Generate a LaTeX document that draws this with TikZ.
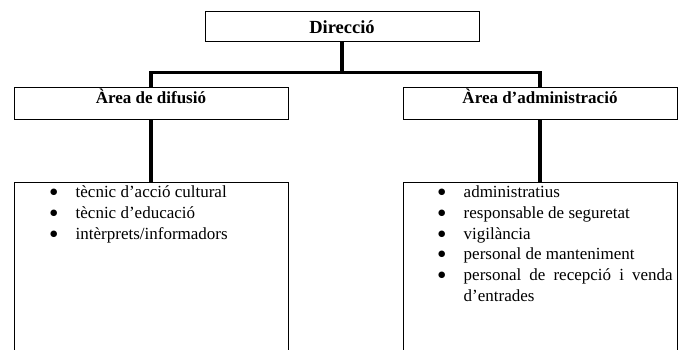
\documentclass[tikz,border=0pt]{standalone}
\usepackage{fontspec}
\setmainfont{Liberation Serif}
\newfontfamily\symfont{DejaVu Sans}
\usetikzlibrary{calc}
\tikzset{
  unitbox/.style={draw, line width=1pt, minimum width=274pt, inner sep=0pt},
  headfont/.style={font=\bfseries\fontsize{17}{20}\selectfont},
  listfont/.style={font=\fontsize{17}{20.7}\selectfont},
  link/.style={line width=3.5pt},
}
\newcommand{\bul}{\makebox[24pt][l]{\hspace{-1.5pt}\raisebox{3pt}{\symfont\fontsize{8.5}{9}\selectfont ●}}}

\begin{document}
\begin{tikzpicture}[x=1pt,y=1pt]
    \useasboundingbox (0,0) rectangle (678,-350);
    \clip (0,0) rectangle (678,-350);

    % Boxes
    \node[unitbox, minimum height=30pt, text height=14pt, text depth=0pt,
          font=\bfseries\fontsize{18.5}{22}\selectfont] (direccio) at (342,-27) {Direcció};
    \node[unitbox, headfont, minimum height=32pt, text height=8pt, text depth=8pt] (difusio) at (151,-104) {Àrea de difusió};
    \node[unitbox, headfont, minimum height=32pt, text height=8pt, text depth=8pt] (admin) at (540,-104) {Àrea d’administració};
    \node[unitbox, minimum height=200pt, anchor=north] (tascadif) at (151,-182) {};
    \node[unitbox, minimum height=200pt, anchor=north] (tascaadm) at (540,-182) {};

    % Connectors
    \coordinate (bus) at (342,-72.5);
    \draw[link] (direccio.south) -- (bus) -| (difusio.north);
    \draw[link] (bus) -| (admin.north);
    \draw[link] (difusio.south) -- (tascadif.north);
    \draw[link] (admin.south) -- (tascaadm.north);

    % Lists
    \node[listfont, anchor=north west, inner sep=0pt] (llistadif) at ($(tascadif.north west)+(38,-1)$) {%
      \begin{tabular}{@{}l@{}l@{}}
        \bul & tècnic d’acció cultural\\
        \bul & tècnic d’educació\\
        \bul & intèrprets/informadors
      \end{tabular}};
    \node[listfont, anchor=north west, inner sep=0pt] (llistaadm) at ($(tascaadm.north west)+(37,-1)$) {%
      \begin{tabular}{@{}l@{}l@{}}
        \bul & administratius\\
        \bul & responsable de seguretat\\
        \bul & vigilància\\
        \bul & personal de manteniment\\
        \bul & \makebox[209pt][s]{personal de recepció i venda}\\
             & d’entrades
      \end{tabular}};
\end{tikzpicture}
\end{document}
